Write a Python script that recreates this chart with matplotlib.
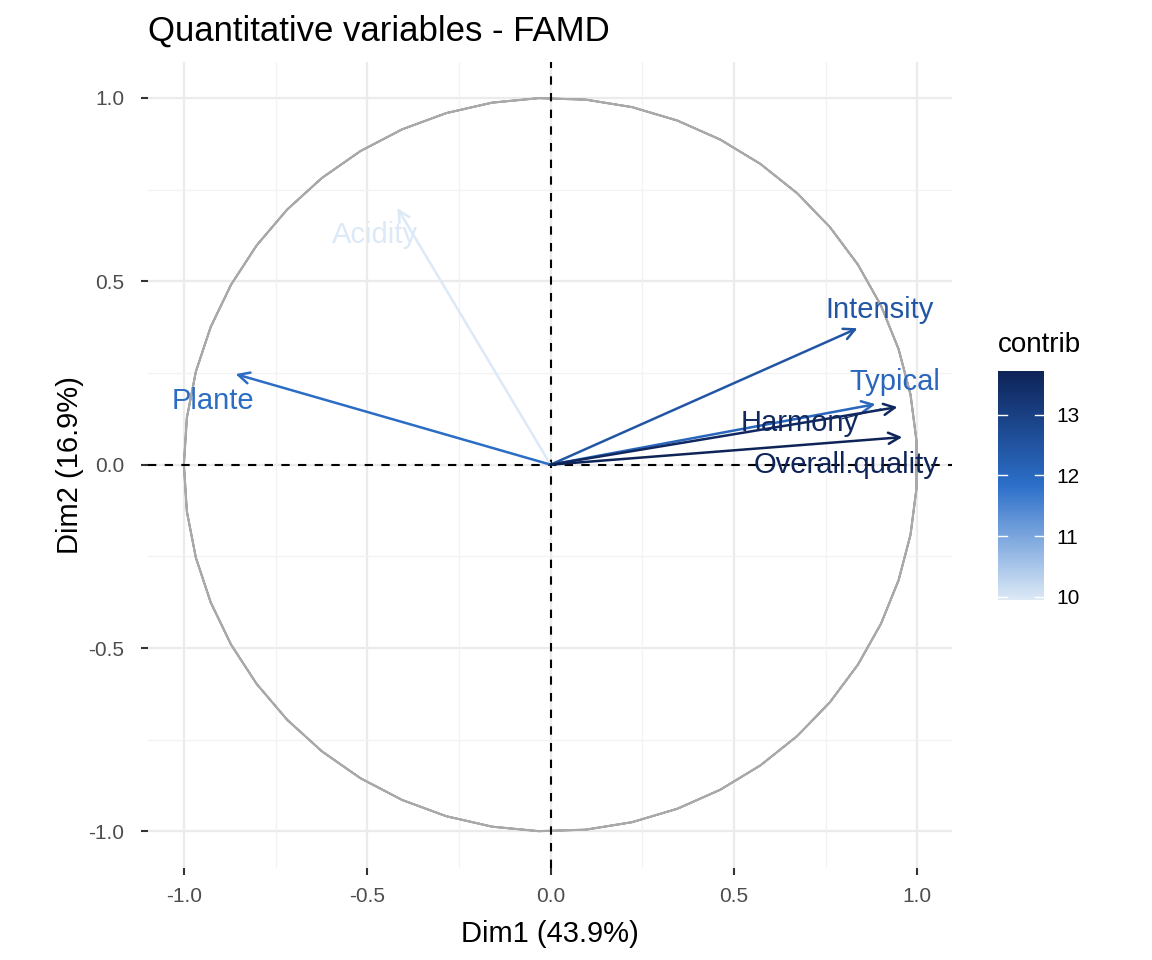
import numpy as np
import matplotlib
matplotlib.use("Agg")
import matplotlib.pyplot as plt
from matplotlib.colors import LinearSegmentedColormap, Normalize
import matplotlib.colorbar as mcolorbar

plt.rcParams['font.family'] = ['Liberation Sans', 'DejaVu Sans']

variables = ["Acidity", "Plante", "Intensity", "Typical", "Harmony", "Overall.quality"]
dim1 = [-0.418, -0.859, 0.837, 0.886, 0.946, 0.959]
dim2 = [0.700, 0.247, 0.372, 0.165, 0.157, 0.075]
contrib = [9.85, 11.9, 12.45, 12.05, 13.6, 13.75]

label_x = [-0.478, -0.921, 0.897, 0.940, 0.679, 0.807]
label_y = [0.627, 0.173, 0.422, 0.225, 0.113, 0.0]

title = "Quantitative variables - FAMD"
xlabel = "Dim1 (43.9%)"
ylabel = "Dim2 (16.9%)"

cmap = LinearSegmentedColormap.from_list(
    "contrib", ["#DCE9F6", "#2C6FC9", "#0E2358"])
norm = Normalize(vmin=9.95, vmax=13.72)

fig = plt.figure(figsize=(11.52, 9.6), dpi=100)
ax = fig.add_axes([0.1276, 0.0958, 0.6997, 0.8396])
ax.set_xlim(-1.098, 1.095)
ax.set_ylim(-1.10, 1.098)
ax.set_aspect('equal', adjustable='box')

for s in ax.spines.values():
    s.set_visible(False)

major = [-1.0, -0.5, 0.0, 0.5, 1.0]
minor = [-0.75, -0.25, 0.25, 0.75]
for v in major:
    ax.axvline(v, color='#EBEBEB', lw=1.6, zorder=0)
    ax.axhline(v, color='#EBEBEB', lw=1.6, zorder=0)
for v in minor:
    ax.axvline(v, color='#F2F2F2', lw=0.9, zorder=0)
    ax.axhline(v, color='#F2F2F2', lw=0.9, zorder=0)

ax.set_xticks(major)
ax.set_yticks(major)
ax.set_xticklabels(["-1.0", "-0.5", "0.0", "0.5", "1.0"])
ax.set_yticklabels(["-1.0", "-0.5", "0.0", "0.5", "1.0"])
ax.tick_params(axis='both', length=5, width=1.5, color='#333333',
               labelsize=15, labelcolor='#4D4D4D')
ax.tick_params(axis='x', pad=9)
ax.tick_params(axis='y', pad=12)

# correlation circle
theta = np.concatenate([np.linspace(-np.pi, np.pi, 50), np.linspace(np.pi, -np.pi, 50)])
ax.plot(np.cos(theta), np.sin(theta), color='#A9A9A9', lw=1.5, zorder=1)

ax.axhline(0, color='black', lw=1.5, ls=(0, (4, 4)), zorder=2)
ax.axvline(0, color='black', lw=1.5, ls=(0, (4, 4)), zorder=2)

for name, x, y, c, lx, ly in zip(variables, dim1, dim2, contrib, label_x, label_y):
    col = cmap(norm(c))
    ax.annotate("", xy=(x, y), xytext=(0, 0),
                arrowprops=dict(arrowstyle="->,head_length=0.8,head_width=0.4",
                                color=col, lw=1.8, shrinkA=0, shrinkB=0),
                zorder=3)
    ax.text(lx, ly, name, color=col, fontsize=21, ha='center', va='center', zorder=4)

# repel segment for Harmony
ax.plot([0.795, 0.90], [0.125, 0.152], color=cmap(norm(contrib[4])), lw=0.8, zorder=3)

ax.set_title(title, fontsize=25, loc='left', pad=15)
ax.set_xlabel(xlabel, fontsize=21, labelpad=10)
ax.set_ylabel(ylabel, fontsize=21, labelpad=3)

# colorbar
cax = fig.add_axes([0.8663, 0.375, 0.0399, 0.2385])
cb = mcolorbar.ColorbarBase(cax, cmap=cmap, norm=norm, orientation='vertical')
cb.outline.set_visible(False)
cb.set_ticks([10, 11, 12, 13])
cax.tick_params(length=0, labelsize=15, labelcolor='black', pad=9)
for t in [10, 11, 12, 13]:
    cax.plot([0, 0.2], [t, t], color='white', lw=1, transform=cax.get_yaxis_transform())
    cax.plot([0.8, 1.0], [t, t], color='white', lw=1, transform=cax.get_yaxis_transform())
fig.text(0.8663, 1 - 345 / 960, "contrib", fontsize=20, ha='left', va='center')

fig.savefig("out.png", dpi=100, facecolor='white')
